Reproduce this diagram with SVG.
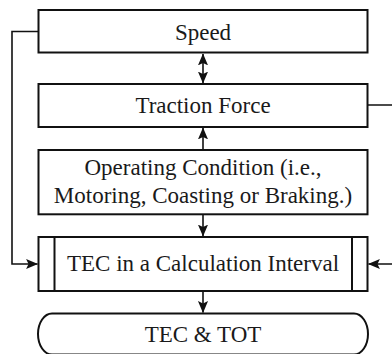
<svg xmlns="http://www.w3.org/2000/svg" width="392" height="354" viewBox="0 0 392 354">
<style>
.box{fill:#fff;stroke:#111;stroke-width:2}
.ln{fill:none;stroke:#111;stroke-width:1.6}
text{font-family:"Liberation Serif","Times New Roman",serif;font-size:23px;fill:#1a1a1a;text-anchor:middle}
</style>
<defs>
<marker id="ah" markerUnits="userSpaceOnUse" markerWidth="12" markerHeight="12" viewBox="0 0 10 10" refX="9.5" refY="5" orient="auto-start-reverse">
<path d="M0,0.8 L10,5 L0,9.2 L2,5 Z" fill="#111"/>
</marker>
</defs>
<rect width="392" height="354" fill="#fff"/>
<g id="connectors">
<path class="ln" d="M203,54 L203,83" marker-start="url(#ah)" marker-end="url(#ah)"/>
<path class="ln" d="M203,150 L203,128" marker-end="url(#ah)"/>
<path class="ln" d="M203,215 L203,236" marker-end="url(#ah)"/>
<path class="ln" d="M203,292 L203,312.5" marker-end="url(#ah)"/>
<path class="ln" d="M38,31.5 L12,31.5 L12,264 L37.5,264" marker-end="url(#ah)"/>
<path class="ln" d="M368,105 L396,105 L396,264 L368.5,264" marker-end="url(#ah)"/>
</g>
<g id="speed">
<rect class="box" x="38.5" y="10" width="329" height="42.5"/>
<text x="203" y="39.5">Speed</text>
</g>
<g id="traction">
<rect class="box" x="38.5" y="84" width="329" height="43"/>
<text x="203" y="112.7">Traction Force</text>
</g>
<g id="operating">
<rect class="box" x="38.5" y="150" width="329" height="64.3"/>
<text x="203" y="175">Operating Condition (i.e.,</text>
<text x="203" y="203.3">Motoring, Coasting or Braking.)</text>
</g>
<g id="tec">
<rect class="box" x="38.5" y="237" width="329" height="54"/>
<line class="box" x1="54.5" y1="237" x2="54.5" y2="291"/>
<line class="box" x1="352" y1="237" x2="352" y2="291"/>
<text x="203" y="271">TEC in a Calculation Interval</text>
</g>
<g id="tectot">
<path class="box" d="M52,313.5 L354,313.5 A14,20.5 0 0 1 354,354.5 L52,354.5 A14,20.5 0 0 1 52,313.5 Z"/>
<text x="203" y="342.3">TEC &amp; TOT</text>
</g>
</svg>
